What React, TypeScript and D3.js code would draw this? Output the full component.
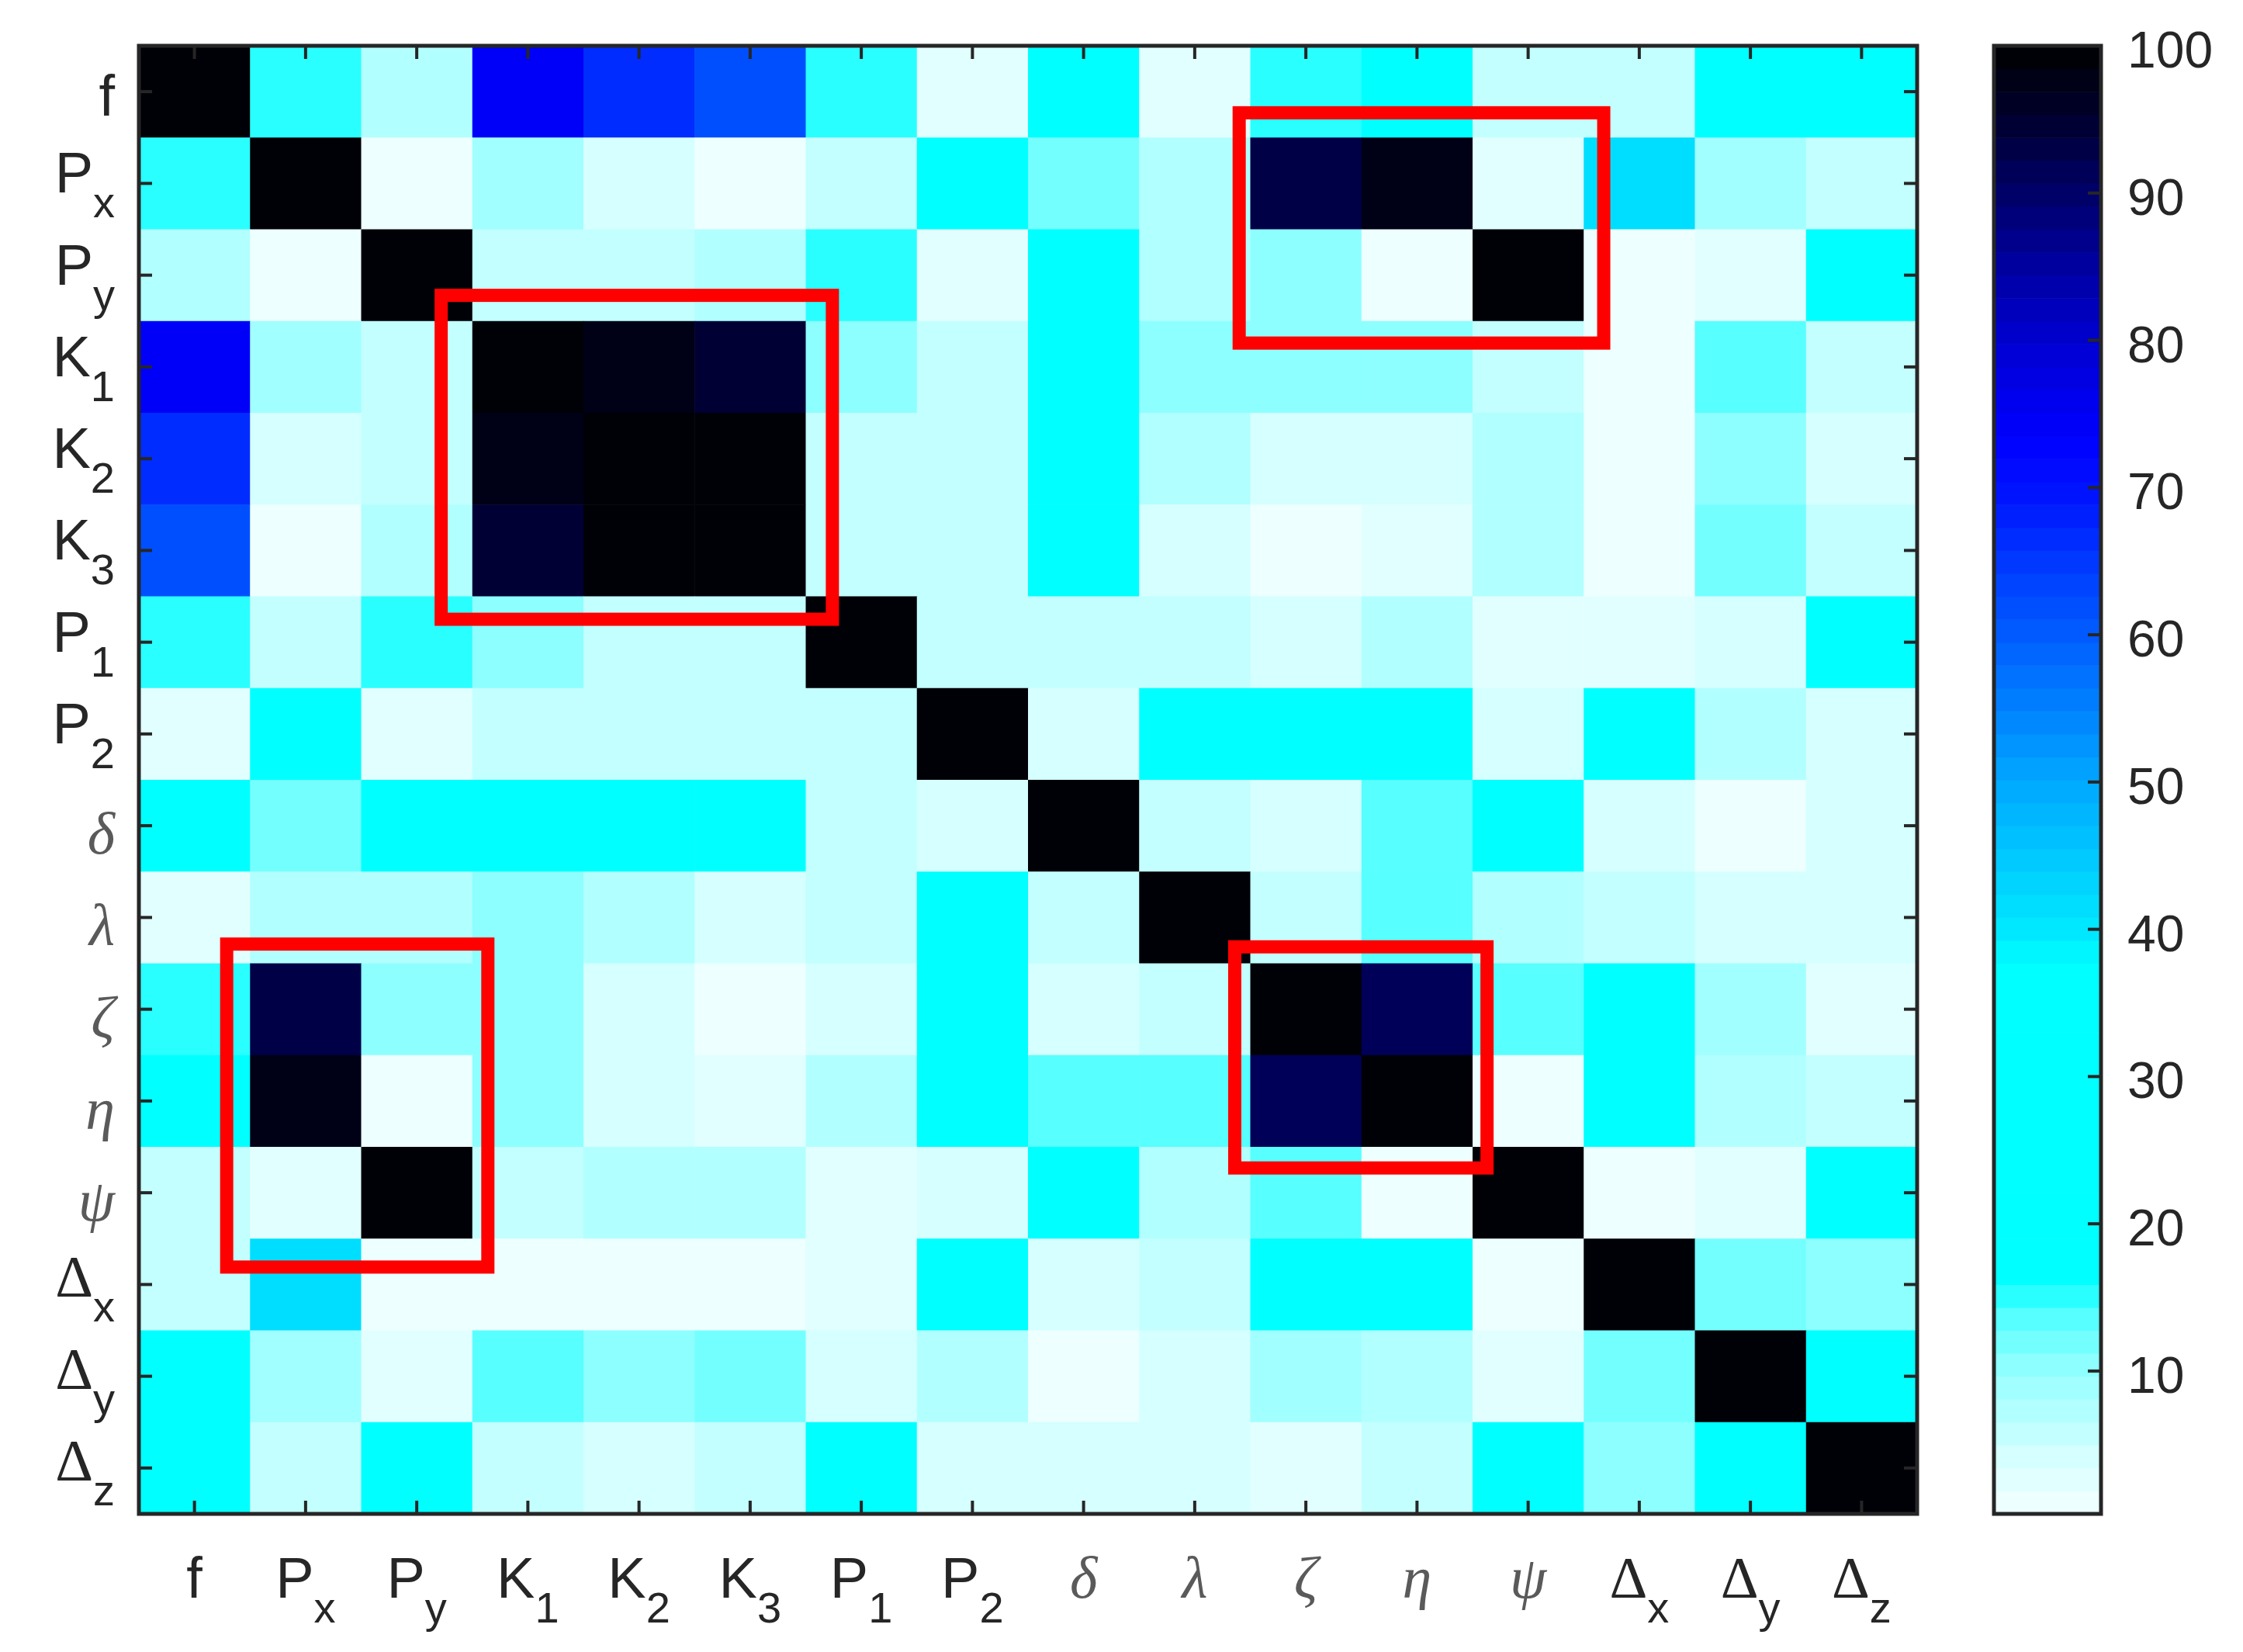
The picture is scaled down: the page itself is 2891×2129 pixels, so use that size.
import * as React from 'react';
import * as d3 from 'd3';

// parameter names, same order on both axes
const labels = ['f', 'P_x', 'P_y', 'K_1', 'K_2', 'K_3', 'P_1', 'P_2', 'δ', 'λ', 'ζ', 'η', 'ψ', 'Δ_x', 'Δ_y', 'Δ_z'];

// correlation (%), rows top -> bottom
const matrix = [
  [100, 15, 7.5, 75, 66.5, 62, 15, 3, 24, 3, 15, 27, 6, 6, 22, 30],
  [15, 100, 1.2, 9, 4.5, 1.2, 6, 28, 12, 7.5, 92.5, 97, 3, 41, 9, 6],
  [7.5, 1.2, 100, 6, 6, 7.5, 15, 3, 26, 7.5, 10.5, 1.2, 98.8, 1.2, 3, 25],
  [75, 9, 6, 100, 97, 94, 10.5, 6, 30, 10.5, 10.5, 10.5, 6, 1.2, 13.5, 6],
  [66.5, 4.5, 6, 97, 100, 100, 6, 6, 30, 7.5, 4.5, 4.5, 7.5, 1.2, 10.5, 4.5],
  [62, 1.2, 7.5, 94, 100, 100, 6, 6, 30, 4.5, 1.2, 3, 7.5, 1.2, 12, 6],
  [15, 6, 15, 10.5, 6, 6, 100, 6, 6, 6, 4.5, 7.5, 3, 3, 4.5, 25],
  [3, 28, 3, 6, 6, 6, 6, 100, 4.5, 22, 22, 22, 4.5, 25, 7.5, 4.5],
  [24, 12, 30, 30, 30, 30, 6, 4.5, 100, 6, 4.5, 13.5, 25, 4.5, 1.2, 4.5],
  [3, 7.5, 7.5, 10.5, 7.5, 4.5, 6, 22, 6, 100, 6, 13.5, 7.5, 6, 4.5, 4.5],
  [15, 93, 10.5, 10.5, 4.5, 1.2, 4.5, 25, 4.5, 6, 100, 91, 13.5, 25, 9, 3],
  [25, 97, 1.2, 10.5, 4.5, 3, 7.5, 25, 13.5, 13.5, 91, 100, 1.2, 25, 7.5, 6],
  [6, 3, 98.8, 6, 7.5, 7.5, 3, 4.5, 25, 7.5, 13.5, 1.2, 100, 1.2, 3, 25],
  [6, 41, 1.2, 1.2, 1.2, 1.2, 2, 25, 4.5, 6, 25, 25, 1.2, 100, 12, 10.5],
  [25, 9, 3, 13.5, 10.5, 12, 4.5, 7.5, 1.2, 4.5, 9, 7.5, 3, 12, 100, 25],
  [25, 6, 25, 6, 4.5, 6, 25, 4.5, 4.5, 4.5, 3, 6, 25, 10.5, 25, 100],
];

const colorbarTicks = [10, 20, 30, 40, 50, 60, 70, 80, 90, 100];

// highlighted blocks, in cell units (column/row from top-left)
const boxCols = [[9.9, 13.18], [2.72, 6.24], [0.79, 3.14], [9.86, 12.13]];
const boxRows = [[0.73, 3.24], [2.72, 6.25], [9.79, 13.31], [9.82, 12.23]];

// colormap anchors (value -> colour), quantised to 64 levels
const cmapStops = [0.3, 3, 4.5, 6, 7.5, 9, 10.5, 12, 13.5, 15, 16.3, 37.5, 40, 45, 50, 55, 60, 65, 70, 73.5, 80, 85, 90, 95, 100];
const cmapColors = ['#f2ffff', '#e0ffff', '#d4ffff', '#c0ffff', '#b0ffff', '#a0ffff', '#8cffff', '#74ffff', '#58ffff', '#2effff',
  '#00ffff', '#00ffff', '#00e8ff', '#00c8ff', '#00a8ff', '#0082ff', '#005cff', '#0038ff', '#0010ff', '#0000ff',
  '#0000d0', '#0000a0', '#000068', '#000030', '#000000'];

const SANS = '"Liberation Sans", Arial, Helvetica, sans-serif';
const SERIF = '"Liberation Serif", "Times New Roman", serif';
const INK = '#262626';

export default function App() {
  const ref = React.useRef<SVGSVGElement>(null);

  React.useEffect(() => {
    const W = 2891;
    const H = 2129;
    const plot = {left: 179, right: 2471, top: 59, bottom: 1951};
    const cbar = {left: 2570, right: 2708};
    const vmin = 0.3;
    const vmax = 100;
    const nLevels = 64;

    const svg = d3.select(ref.current).attr('width', W).attr('height', H);
    svg.selectAll('*').remove();
    svg.append('rect').attr('width', W).attr('height', H).attr('fill', '#fff');

    const x = d3.scaleBand<string>().domain(labels).range([plot.left, plot.right]);
    const y = d3.scaleBand<string>().domain(labels).range([plot.top, plot.bottom]);
    const xc = d3.scaleLinear().domain([0, labels.length]).range([plot.left, plot.right]);
    const yc = d3.scaleLinear().domain([0, labels.length]).range([plot.top, plot.bottom]);

    const interp = d3.scaleLinear<string>().domain(cmapStops).range(cmapColors)
      .interpolate(d3.interpolateRgb).clamp(true);
    const step = (vmax - vmin) / nLevels;
    const level = (v: number) => Math.max(0, Math.min(nLevels - 1, Math.floor((v - vmin) / step)));
    const color = (v: number) => interp(vmin + (level(v) + 0.5) * step);

    // cells
    const cells = svg.append('g');
    matrix.forEach((row, i) => {
      row.forEach((v, j) => {
        cells.append('rect')
          .attr('x', x(labels[j])!)
          .attr('y', y(labels[i])!)
          .attr('width', x.bandwidth() + 0.6)
          .attr('height', y.bandwidth() + 0.6)
          .attr('fill', color(v));
      });
    });

    // ticks on all four sides, pointing in
    const tk = svg.append('g').attr('stroke', INK).attr('stroke-width', 4);
    const tl = 17;
    labels.forEach(l => {
      const cx = x(l)! + x.bandwidth() / 2;
      const cy = y(l)! + y.bandwidth() / 2;
      tk.append('line').attr('x1', cx).attr('x2', cx).attr('y1', plot.bottom).attr('y2', plot.bottom - tl);
      tk.append('line').attr('x1', cx).attr('x2', cx).attr('y1', plot.top).attr('y2', plot.top + tl);
      tk.append('line').attr('y1', cy).attr('y2', cy).attr('x1', plot.left).attr('x2', plot.left + tl);
      tk.append('line').attr('y1', cy).attr('y2', cy).attr('x1', plot.right).attr('x2', plot.right - tl);
    });

    svg.append('rect')
      .attr('x', plot.left).attr('y', plot.top)
      .attr('width', plot.right - plot.left).attr('height', plot.bottom - plot.top)
      .attr('fill', 'none').attr('stroke', INK).attr('stroke-width', 5);

    // red highlight boxes
    boxCols.forEach((c, k) => {
      const r = boxRows[k];
      svg.append('rect')
        .attr('x', xc(c[0])).attr('y', yc(r[0]))
        .attr('width', xc(c[1]) - xc(c[0])).attr('height', yc(r[1]) - yc(r[0]))
        .attr('fill', 'none').attr('stroke', '#ff0000').attr('stroke-width', 17);
    });

    // tick labels
    const parse = (lab: string) => {
      const [base, sub] = lab.split('_');
      return {base, sub, greek: /[δλζηψ]/.test(base), delta: base === 'Δ'};
    };
    const addLabel = (t: d3.Selection<SVGTextElement, unknown, null, undefined>, lab: string) => {
      const p = parse(lab);
      const b = t.append('tspan').text(p.base);
      if (p.greek) b.attr('font-family', SERIF).attr('font-style', 'italic').attr('font-size', 76).attr('fill', '#5a5a5a');
      if (p.delta) b.attr('font-family', SERIF).attr('font-size', 76);
      if (p.sub) t.append('tspan').attr('dy', 32).attr('font-size', 56).text(p.sub);
    };

    const labs = svg.append('g').attr('font-family', SANS).attr('font-size', 74).attr('fill', INK);
    labels.forEach(l => {
      const p = parse(l);
      const cy = y(l)! + y.bandwidth() / 2;
      const off = p.greek ? 36 : p.sub ? (p.delta ? 16 : 12) : 31;
      addLabel(labs.append('text').attr('x', 148).attr('y', cy + off).attr('text-anchor', 'end'), l);
      const cx = x(l)! + x.bandwidth() / 2;
      addLabel(labs.append('text').attr('x', cx).attr('y', 2059).attr('text-anchor', 'middle'), l);
    });

    // colorbar
    const cy = d3.scaleLinear().domain([vmin, vmax]).range([plot.bottom, plot.top]);
    const cb = svg.append('g');
    d3.range(nLevels).forEach(k => {
      const lo = vmin + k * step;
      cb.append('rect')
        .attr('x', cbar.left).attr('width', cbar.right - cbar.left)
        .attr('y', cy(lo + step)).attr('height', cy(lo) - cy(lo + step) + 0.6)
        .attr('fill', interp(lo + step / 2));
    });
    colorbarTicks.forEach(t => {
      if (t < vmax) {
        cb.append('line')
          .attr('x1', cbar.right).attr('x2', cbar.right - tl)
          .attr('y1', cy(t)).attr('y2', cy(t))
          .attr('stroke', INK).attr('stroke-width', 4);
      }
      cb.append('text')
        .attr('x', 2742).attr('y', cy(t) + 28)
        .attr('font-family', SANS).attr('font-size', 66).attr('fill', INK)
        .text(t);
    });
    cb.append('rect')
      .attr('x', cbar.left).attr('y', plot.top)
      .attr('width', cbar.right - cbar.left).attr('height', plot.bottom - plot.top)
      .attr('fill', 'none').attr('stroke', INK).attr('stroke-width', 5);
  }, []);

  return <svg ref={ref} style={{position: 'absolute', left: 0, top: 0}} />;
}
